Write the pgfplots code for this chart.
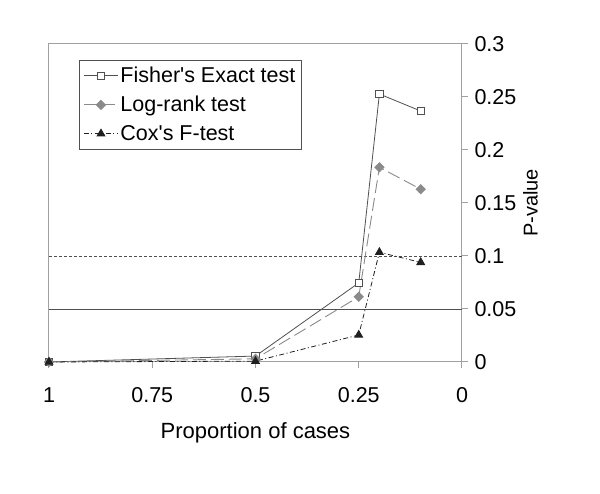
\documentclass[border=0pt]{standalone}
\usepackage{fontspec}
\setmainfont{Liberation Sans}
\usepackage{pgfplots}
\pgfplotsset{compat=1.18}
\definecolor{framegray}{HTML}{A0A0A0}
\definecolor{fishercol}{HTML}{505050}
\definecolor{logrankcol}{HTML}{8A8A8A}
\definecolor{coxcol}{HTML}{202020}

\begin{document}
\begin{tikzpicture}
\begin{axis}[
    scale only axis,
    width=413pt, height=318pt,
    x dir=reverse,
    xmin=0, xmax=1, ymin=0, ymax=0.3,
    xtick={0,0.25,0.5,0.75,1},
    ytick={0,0.05,0.1,0.15,0.2,0.25,0.3},
    xtick pos=bottom, ytick pos=right,
    yticklabel pos=right,
    tick align=outside,
    major tick length=6pt,
    axis line style={framegray, line width=1pt},
    every tick/.append style={framegray, line width=1pt},
    /pgf/number format/assume math mode=true,
    /pgf/number format/fixed,
    /pgf/number format/precision=2,
    tick label style={font=\fontsize{21.5}{25}\selectfont},
    xticklabel style={yshift=-16pt},
    yticklabel style={xshift=3pt},
    xlabel={Proportion of cases},
    ylabel={P-value},
    xlabel style={font=\fontsize{22}{26}\selectfont, yshift=-13pt},
    ylabel style={font=\fontsize{20}{24}\selectfont},
    legend style={at={(0.073,0.95)}, anchor=north west,
        draw=fishercol, line width=0.8pt,
        font=\fontsize{21.5}{25}\selectfont,
        inner xsep=4pt, inner ysep=5pt,
        row sep=8pt, cells={anchor=west}},
    legend image code/.code={%
        \draw[mark repeat=2,mark phase=2] plot coordinates {(0pt,0pt) (17pt,0pt) (34pt,0pt)};},
    clip=false,
]
% reference lines at p = 0.05 and p = 0.1
\addplot[forget plot, fishercol, line width=0.9pt] coordinates {(0,0.05) (1,0.05)};
\addplot[forget plot, fishercol, line width=0.9pt, dash pattern=on 2.5pt off 2.5pt] coordinates {(0,0.1) (1,0.1)};

\addplot[fishercol, line width=0.8pt, mark=square*, mark size=3.7pt,
    mark options={solid, fill=white, draw=fishercol}]
    coordinates {(1,0) (0.5,0.0056) (0.25,0.0746) (0.2,0.2528) (0.1,0.2368)};
\addlegendentry{Fisher\textquotesingle s Exact test}

\addplot[logrankcol, line width=0.9pt, dash pattern=on 13pt off 5pt, mark=square*, mark size=3.2pt,
    mark options={solid, rotate=45, fill=logrankcol, draw=logrankcol}]
    coordinates {(1,0) (0.5,0.003) (0.25,0.0615) (0.2,0.1837) (0.1,0.1630)};
\addlegendentry{Log-rank test}

\addplot[coxcol, line width=0.8pt, dash pattern=on 5pt off 2.5pt on 1pt off 2.5pt, mark=triangle*, mark size=4.5pt,
    mark options={solid, fill=coxcol, draw=coxcol}]
    coordinates {(1,0) (0.5,0.0008) (0.25,0.0255) (0.2,0.1035) (0.1,0.0940)};
\addlegendentry{Cox\textquotesingle s F-test}

\path[use as bounding box] (axis description cs:0,0) ++(-49pt,-132pt) rectangle ++(600pt,494pt);
\end{axis}
\end{tikzpicture}
\end{document}
